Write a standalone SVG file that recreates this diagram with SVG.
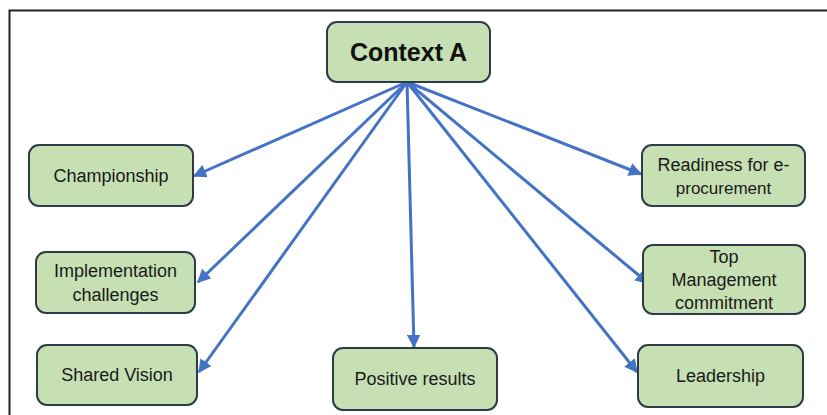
<svg xmlns="http://www.w3.org/2000/svg" width="827" height="415" viewBox="0 0 827 415">
  <style>
    .box { fill: #c6e0b4; stroke: #2e3b48; stroke-width: 2; }
    .lbl { font-family: "Liberation Sans", Arial, sans-serif; font-size: 18px; fill: #1a1a1a; text-anchor: middle; }
    .title { font-family: "Liberation Sans", Arial, sans-serif; font-size: 25px; font-weight: bold; fill: #111; text-anchor: middle; }
    .arrow { stroke: #4472c4; stroke-width: 3; fill: none; marker-end: url(#head); }
  </style>
  <defs>
    <marker id="head" viewBox="0 0 10 10" refX="9" refY="5" markerWidth="4.5" markerHeight="4.5" orient="auto" markerUnits="strokeWidth">
      <path d="M0,0 L10,5 L0,10 z" fill="#4472c4"/>
    </marker>
  </defs>

  <rect width="827" height="415" fill="#ffffff"/>
  <!-- outer frame -->
  <path d="M9.5,415 V10.5 H827" fill="none" stroke="#222" stroke-width="2"/>

  <g id="connectors">
    <line class="arrow" x1="407" y1="82" x2="194" y2="176"/>
    <line class="arrow" x1="407" y1="82" x2="198" y2="282"/>
    <line class="arrow" x1="407" y1="82" x2="199" y2="372"/>
    <line class="arrow" x1="407" y1="82" x2="414" y2="347"/>
    <line class="arrow" x1="407" y1="82" x2="641" y2="174"/>
    <line class="arrow" x1="407" y1="82" x2="648" y2="283"/>
    <line class="arrow" x1="407" y1="82" x2="637" y2="372"/>
  </g>

  <g id="context-a">
    <rect class="box" x="327" y="22" width="163" height="60" rx="10"/>
    <text class="title" x="408.5" y="61">Context A</text>
  </g>

  <g id="championship">
    <rect class="box" x="29" y="145" width="164" height="61" rx="10"/>
    <text class="lbl" x="111" y="182">Championship</text>
  </g>

  <g id="implementation-challenges">
    <rect class="box" x="36" y="252" width="159" height="61" rx="10"/>
    <text class="lbl" x="115.5" y="277">Implementation</text>
    <text class="lbl" x="115.5" y="301">challenges</text>
  </g>

  <g id="shared-vision">
    <rect class="box" x="37" y="345" width="160" height="60" rx="10"/>
    <text class="lbl" x="117" y="381">Shared Vision</text>
  </g>

  <g id="positive-results">
    <rect class="box" x="333" y="348" width="164" height="62" rx="10"/>
    <text class="lbl" x="415" y="385">Positive results</text>
  </g>

  <g id="readiness">
    <rect class="box" x="642" y="145" width="163" height="61" rx="10"/>
    <text class="lbl" x="723.5" y="171">Readiness for e-</text>
    <text class="lbl" x="723.5" y="194" style="font-size:17px">procurement</text>
  </g>

  <g id="top-management">
    <rect class="box" x="643" y="245" width="162" height="69" rx="10"/>
    <text class="lbl" x="724" y="263">Top</text>
    <text class="lbl" x="724" y="286">Management</text>
    <text class="lbl" x="724" y="309">commitment</text>
  </g>

  <g id="leadership">
    <rect class="box" x="638" y="345" width="165" height="62" rx="10"/>
    <text class="lbl" x="720.5" y="382">Leadership</text>
  </g>
</svg>
